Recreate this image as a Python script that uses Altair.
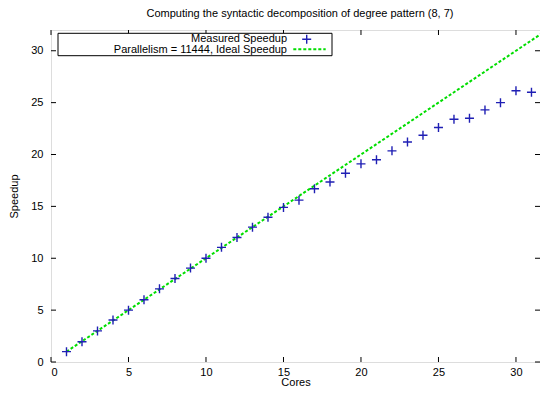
import altair as alt
import pandas as pd

# ---- data ----
cores = list(range(1, 32))
measured = [1.0, 1.95, 3.0, 4.05, 5.0, 6.0, 7.05, 8.05, 9.05, 10.0,
            11.05, 12.0, 13.0, 13.95, 14.9, 15.6, 16.7, 17.35, 18.2, 19.1,
            19.5, 20.35, 21.2, 21.85, 22.6, 23.4, 23.5, 24.3, 25.0, 26.15, 26.0]
ideal_cores = [1, 32]
ideal_speedup = [1, 32]
x_ticks = [0, 5, 10, 15, 20, 25, 30]
y_ticks = [0, 5, 10, 15, 20, 25, 30]
title_text = "Computing the syntactic decomposition of degree pattern (8, 7)"
legend_labels = ["Measured Speedup", "Parallelism = 11444, Ideal Speedup"]

W, H = 489, 332
X_MAX = 31.55   # visible part of the 0..32 core axis that fits the window
FONT = "Liberation Sans"
BLUE = "#1f1fb4"
GREEN = "#00dd00"
PLUS = "M-1,0L1,0M0,-1L0,1"

meas_df = pd.DataFrame({"cores": cores, "speedup": measured})
ideal_df = pd.DataFrame({"cores": ideal_cores, "speedup": ideal_speedup})
xt_df = pd.DataFrame({"v": x_ticks})
yt_df = pd.DataFrame({"v": y_ticks})

xscale = alt.Scale(domain=[0, X_MAX], nice=False, zero=False)
yscale = alt.Scale(domain=[0, 32], nice=False, zero=False)

xaxis = alt.Axis(values=x_ticks, title="Cores", grid=False, ticks=False, domain=False,
                 labelPadding=4, labelFontSize=11, labelFont=FONT, labelColor="black",
                 titleFont=FONT, titleFontSize=11, titleFontWeight="normal", titleColor="black",
                 titleY=23.5, titleBaseline="alphabetic")
yaxis = alt.Axis(values=y_ticks, title="Speedup", grid=False, ticks=False, domain=False,
                 labelPadding=8, labelFontSize=11, labelFont=FONT, labelColor="black",
                 titleFont=FONT, titleFontSize=11, titleFontWeight="normal", titleColor="black",
                 titleX=-37, titleY=H / 2, titleBaseline="middle", titleAngle=270)

ideal = alt.Chart(ideal_df).mark_line(color=GREEN, strokeWidth=2, strokeDash=[3, 2], clip=True).encode(
    x=alt.X("cores:Q", scale=xscale, axis=xaxis),
    y=alt.Y("speedup:Q", scale=yscale, axis=yaxis),
)

points = alt.Chart(meas_df).mark_point(shape=PLUS, size=81, strokeWidth=1.4, color=BLUE,
                                       filled=False, opacity=1).encode(
    x=alt.X("cores:Q", scale=xscale),
    y=alt.Y("speedup:Q", scale=yscale),
)

tick_len = 5
xt_bottom = alt.Chart(xt_df).mark_rule(color="black", strokeWidth=1).encode(
    x=alt.X("v:Q", scale=xscale), y=alt.value(H), y2=alt.value(H - tick_len))
xt_top = alt.Chart(xt_df).mark_rule(color="black", strokeWidth=1).encode(
    x=alt.X("v:Q", scale=xscale), y=alt.value(0), y2=alt.value(tick_len))
yt_left = alt.Chart(yt_df).mark_rule(color="black", strokeWidth=1).encode(
    y=alt.Y("v:Q", scale=yscale), x=alt.value(0), x2=alt.value(tick_len))
yt_right = alt.Chart(yt_df).mark_rule(color="black", strokeWidth=1).encode(
    y=alt.Y("v:Q", scale=yscale), x=alt.value(W), x2=alt.value(W - tick_len))

one = pd.DataFrame({"a": [0]})

# chart title (drawn as text above the frame)
title_mark = alt.Chart(one).mark_text(align="center", baseline="alphabetic", font=FONT, fontSize=11,
                                      color="black", text=title_text).encode(
    x=alt.value(249), y=alt.value(-13))

# ---- legend (gnuplot style: label left, sample right) ----
leg_box = alt.Chart(one).mark_rect(fill="white", stroke="black", strokeWidth=1).encode(
    x=alt.value(7), x2=alt.value(281), y=alt.value(3.3), y2=alt.value(25.7))
leg_t1 = alt.Chart(one).mark_text(align="right", baseline="middle", font=FONT, fontSize=11,
                                  color="black", text=legend_labels[0]).encode(
    x=alt.value(236), y=alt.value(9.0))
leg_t2 = alt.Chart(one).mark_text(align="right", baseline="middle", font=FONT, fontSize=11,
                                  color="black", text=legend_labels[1]).encode(
    x=alt.value(236), y=alt.value(20.0))
leg_p = alt.Chart(one).mark_point(shape=PLUS, size=81, strokeWidth=1.4, color=BLUE,
                                  filled=False, opacity=1).encode(
    x=alt.value(255.7), y=alt.value(9.3))
leg_l = alt.Chart(one).mark_rule(color=GREEN, strokeWidth=2, strokeDash=[3, 2]).encode(
    x=alt.value(242.3), x2=alt.value(274.7), y=alt.value(19.3))

chart = alt.layer(
    ideal, points, xt_bottom, xt_top, yt_left, yt_right,
    leg_box, leg_t1, leg_t2, leg_p, leg_l, title_mark,
).properties(
    width=W, height=H,
    autosize=alt.AutoSizeParams(type="none"),
    padding={"left": 43, "top": 22, "right": 0, "bottom": 25},
).configure_view(
    stroke="black", strokeWidth=1
).configure(background="white")

chart.save("out.html", embed_options={"renderer": "svg", "actions": False})
